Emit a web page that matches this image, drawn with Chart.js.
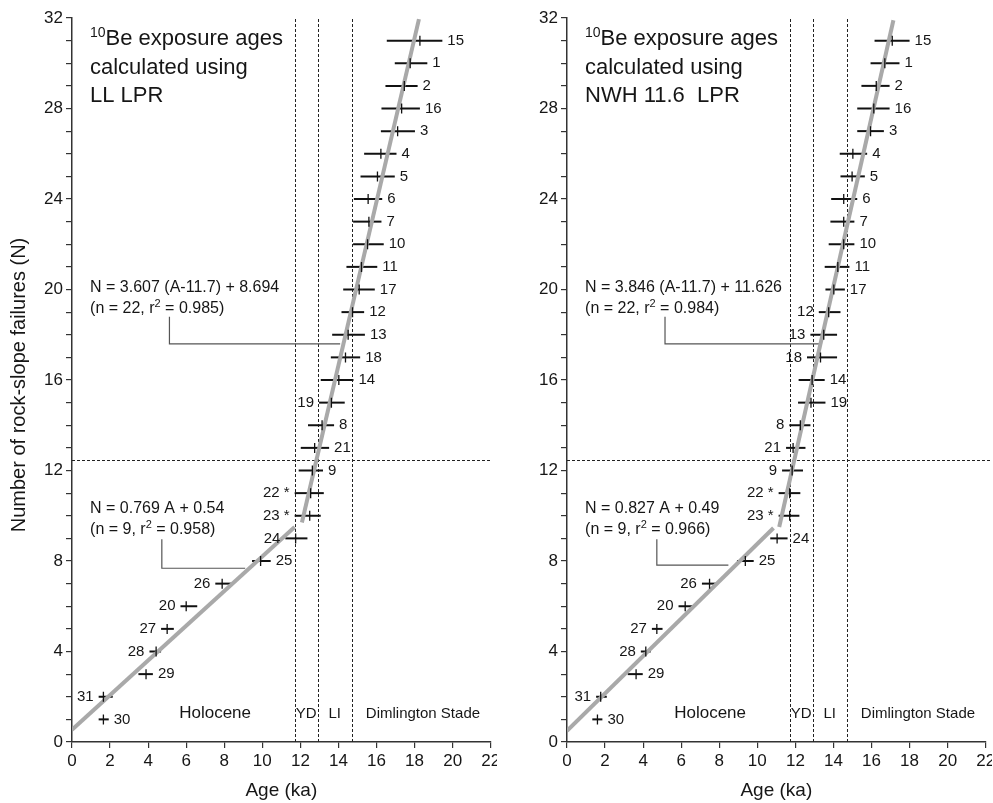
<!DOCTYPE html>
<html lang="en">
<head>
  <meta charset="UTF-8">
  <title>Rock-slope failures vs 10Be exposure age</title>
  <script src="https://cdn.jsdelivr.net/npm/chart.js@4"></script>
  <style>
    html, body { margin: 0; padding: 0; background: #fff; }
    #wrap { position: relative; width: 993px; height: 803px; overflow: hidden; }
    canvas { position: absolute; top: 0; }
    #left { left: 0; }
    #right { left: 495px; }
  </style>
</head>
<body>
  <div id="wrap">
    <canvas id="left" width="497" height="803"></canvas>
    <canvas id="right" width="497" height="803"></canvas>
  </div>

  <script>
// Rank of each rock-slope failure (y values)
const failureN = [1, 2, 3, 4, 5, 6, 7, 8, 9, 10, 11, 12, 13, 14, 15, 16,
                  17, 18, 19, 20, 21, 22, 23, 24, 25, 26, 27, 28, 29, 30, 31];

// Site number written next to each point
const siteLabels = ['30', '31', '29', '28', '27', '20', '26', '25', '24', '23 *', '22 *',
                    '9', '21', '8', '19', '14', '18', '13', '12', '17', '11', '10',
                    '7', '6', '5', '4', '3', '16', '2', '1', '15'];

// LL LPR ages (ka) with error bar ends
const llAge = [1.65, 1.65, 3.89, 4.42, 5.00, 6.00, 7.89, 9.91, 11.75, 12.49, 12.54,
               12.63, 12.75, 13.14, 13.63, 14.02, 14.37, 14.51, 14.74, 15.09, 15.21,
               15.53, 15.60, 15.56, 16.05, 16.23, 17.11, 17.32, 17.46, 17.77, 18.28];
const llLow = [1.40, 1.40, 3.49, 4.07, 4.68, 5.70, 7.53, 9.46, 11.21, 11.70, 11.70,
               11.91, 12.02, 12.40, 12.98, 13.07, 13.60, 13.67, 14.16, 14.25, 14.42,
               14.77, 14.77, 14.81, 15.16, 15.35, 16.23, 16.26, 16.47, 16.96, 16.54];
const llHigh = [1.93, 2.14, 4.25, 4.68, 5.35, 6.58, 8.40, 10.44, 12.37, 13.07, 13.23,
                13.19, 13.51, 13.77, 14.33, 14.79, 15.14, 15.39, 15.35, 15.91, 16.04,
                16.38, 16.26, 16.30, 16.96, 17.05, 18.02, 18.28, 18.16, 18.67, 19.46];

// NWH 11.6 LPR ages (ka) with error bar ends
const nwhAge = [1.60, 1.77, 3.63, 4.14, 4.72, 6.21, 7.49, 9.37, 11.04, 11.70, 11.70,
                11.83, 11.88, 12.26, 12.82, 12.88, 13.32, 13.49, 13.75, 14.02, 14.23,
                14.54, 14.54, 14.54, 14.98, 15.02, 15.95, 16.12, 16.25, 16.70, 17.09];
const nwhLow = [1.33, 1.53, 3.19, 3.88, 4.46, 5.86, 7.09, 8.93, 10.68, 11.12, 11.12,
                11.30, 11.51, 11.68, 12.14, 12.17, 12.61, 12.79, 13.23, 13.58, 13.54,
                13.75, 13.84, 13.88, 14.37, 14.33, 15.25, 15.25, 15.47, 15.95, 16.16];
const nwhHigh = [1.86, 2.09, 3.98, 4.40, 5.02, 6.62, 7.93, 9.81, 11.59, 12.21, 12.26,
                 12.40, 12.53, 12.79, 13.58, 13.54, 14.19, 14.19, 14.37, 14.60, 14.84,
                 15.10, 15.10, 15.25, 15.65, 15.77, 16.65, 16.95, 16.95, 17.47, 18.00];

// Regression line end points (age ka, N)
const llFitHolocene = [[0, 0.54], [11.7, 9.5]];
const llFitLate = [[12.08, 9.7], [18.23, 31.95]];
const nwhFitHolocene = [[0, 0.49], [10.85, 9.46]];
const nwhFitLate = [[11.15, 9.5], [17.15, 31.9]];

// Period boundaries (ka) and the N = 12.45 divider
const periodBounds = [11.7, 12.9, 14.7];
const splitN = 12.45;

// Regression equations
const llEqLate = ['N = 3.607 (A-11.7) + 8.694', '22', '0.985'];
const llEqHolocene = ['N = 0.769 A + 0.54', '9', '0.958'];
const nwhEqLate = ['N = 3.846 (A-11.7) + 11.626', '22', '0.984'];
const nwhEqHolocene = ['N = 0.827 A + 0.49', '9', '0.966'];

var FONT = '"Liberation Sans", Arial, Helvetica, sans-serif';
var INK = '#161616';

// which points carry their label on the left of the bar
var LEFT_SIDE = {
  left: [2, 4, 5, 6, 7, 9, 10, 11, 15],
  right: [2, 4, 5, 6, 7, 10, 11, 12, 13, 14, 17, 18, 19]
};

function toXY(pairs) {
  return pairs.map(function(p) { return {x: p[0], y: p[1]}; });
}

/* text with superscript pieces: parts = [[text, isSup], ...] */
function drawRich(ctx, parts, x, y, size, supSize) {
  var cx = x;
  parts.forEach(function(p) {
    ctx.font = (p[1] ? supSize : size) + 'px ' + FONT;
    ctx.fillText(p[0], cx, p[1] ? y - size * 0.38 : y);
    cx += ctx.measureText(p[0]).width;
  });
}

function makeExtras(panel) {
  return {
    id: 'extras_' + panel.id,

    beforeDatasetsDraw: function(chart) {
      var ctx = chart.ctx, xs = chart.scales.x, ys = chart.scales.y, area = chart.chartArea;
      ctx.save();

      // dashed period boundaries
      ctx.strokeStyle = '#222';
      ctx.lineWidth = 1;
      ctx.setLineDash([3, 2]);
      periodBounds.forEach(function(b) {
        var px = Math.round(xs.getPixelForValue(b)) + 0.5;
        ctx.beginPath();
        ctx.moveTo(px, ys.getPixelForValue(0));
        ctx.lineTo(px, area.top);
        ctx.stroke();
      });
      var py = Math.round(ys.getPixelForValue(splitN)) + 0.5;
      ctx.beginPath();
      ctx.moveTo(area.left, py);
      ctx.lineTo(area.right + panel.dividerExtra, py);
      ctx.stroke();
      ctx.setLineDash([]);

      // leader lines from equations
      ctx.strokeStyle = '#555';
      ctx.lineWidth = 1.2;
      panel.leaders.forEach(function(l) {
        ctx.beginPath();
        ctx.moveTo(xs.getPixelForValue(l[0]), ys.getPixelForValue(l[1]));
        ctx.lineTo(xs.getPixelForValue(l[0]), ys.getPixelForValue(l[2]));
        ctx.lineTo(xs.getPixelForValue(l[3]), ys.getPixelForValue(l[2]));
        ctx.stroke();
      });

      // horizontal error bars
      ctx.strokeStyle = '#111';
      ctx.lineWidth = 2;
      for (var i = 0; i < failureN.length; i++) {
        var y = ys.getPixelForValue(failureN[i]);
        ctx.beginPath();
        ctx.moveTo(xs.getPixelForValue(panel.low[i]), y);
        ctx.lineTo(xs.getPixelForValue(panel.high[i]), y);
        ctx.stroke();
      }
      ctx.restore();
    },

    afterDatasetsDraw: function(chart) {
      var ctx = chart.ctx, xs = chart.scales.x, ys = chart.scales.y, area = chart.chartArea;
      ctx.save();
      ctx.fillStyle = INK;

      // site labels
      ctx.font = '15px ' + FONT;
      ctx.textBaseline = 'middle';
      for (var i = 0; i < failureN.length; i++) {
        var y = ys.getPixelForValue(failureN[i]);
        if (panel.leftSide.indexOf(failureN[i]) >= 0) {
          ctx.textAlign = 'right';
          ctx.fillText(siteLabels[i], xs.getPixelForValue(panel.low[i]) - 5, y);
        } else {
          ctx.textAlign = 'left';
          ctx.fillText(siteLabels[i], xs.getPixelForValue(panel.high[i]) + 5, y);
        }
      }

      // panel title
      ctx.textBaseline = 'alphabetic';
      ctx.textAlign = 'left';
      var tx = area.left + 18;
      drawRich(ctx, [['10', true], ['Be exposure ages', false]], tx, area.top + 27, 22, 14);
      ctx.font = '22px ' + FONT;
      ctx.fillText('calculated using', tx, area.top + 56);
      ctx.fillText(panel.title, tx, area.top + 84);

      // regression equations
      [panel.eqLate, panel.eqHolocene].forEach(function(eq, k) {
        var ex = xs.getPixelForValue(0.95);
        var ey = ys.getPixelForValue(k === 0 ? 19.9 : 10.12);
        ctx.font = '16px ' + FONT;
        ctx.fillText(eq[0], ex, ey);
        drawRich(ctx, [['(n = ' + eq[1] + ', r', false], ['2', true], [' = ' + eq[2] + ')', false]],
                 ex, ey + 21, 16, 11);
      });

      // period names
      ctx.textAlign = 'center';
      var by = ys.getPixelForValue(1.06);
      ctx.font = '17px ' + FONT;
      ctx.fillText('Holocene', xs.getPixelForValue(7.52), by);
      ctx.font = '15px ' + FONT;
      ctx.fillText('YD', xs.getPixelForValue(12.31), by);
      ctx.fillText('LI', xs.getPixelForValue(13.8), by);
      ctx.fillText('Dimlington Stade', xs.getPixelForValue(18.44), by);

      // axis titles
      ctx.font = '19px ' + FONT;
      ctx.fillText('Age (ka)', (area.left + area.right) / 2, 796);
      if (panel.yTitle) {
        ctx.save();
        ctx.translate(25, 385);
        ctx.rotate(-Math.PI / 2);
        ctx.font = '20px ' + FONT;
        ctx.fillText('Number of rock-slope failures (N)', 0, 0);
        ctx.restore();
      }
      ctx.restore();
    }
  };
}

function makePanel(panel) {
  var points = failureN.map(function(n, i) { return {x: panel.age[i], y: n}; });

  var axisCommon = {
    type: 'linear',
    grid: { drawOnChartArea: false, drawTicks: true, tickLength: 6, color: '#333', lineWidth: 1.2 },
    border: { display: true, color: '#333', width: 1.5 },
  };

  return new Chart(document.getElementById(panel.id), {
    type: 'scatter',
    data: {
      datasets: [
        {
          data: points,
          pointStyle: 'line',
          rotation: 90,
          radius: 5,
          borderWidth: 1.3,
          borderColor: '#111',
          order: 0
        },
        {
          data: toXY(panel.fitHolocene),
          showLine: true,
          borderColor: '#a9a9a9',
          borderWidth: 4,
          pointRadius: 0,
          order: 1
        },
        {
          data: toXY(panel.fitLate),
          showLine: true,
          borderColor: '#a9a9a9',
          borderWidth: 4,
          pointRadius: 0,
          order: 1
        }
      ]
    },
    options: {
      responsive: false,
      animation: false,
      devicePixelRatio: 1,
      layout: { padding: { top: 18, right: 6, left: 0, bottom: 0 } },
      plugins: { legend: { display: false }, tooltip: { enabled: false } },
      scales: {
        x: Object.assign({}, axisCommon, {
          min: 0, max: 22,
          ticks: { stepSize: 2, padding: 3, color: INK, font: { family: FONT, size: 17 } },
          afterFit: function(s) { s.height = 61; s.paddingLeft = 0; s.paddingRight = 0; }
        }),
        y: Object.assign({}, axisCommon, {
          min: 0, max: 32,
          ticks: {
            stepSize: 1, autoSkip: false, padding: 3, color: INK,
            font: { family: FONT, size: 17 },
            callback: function(v) { return v % 4 === 0 ? v : ''; }
          },
          afterFit: function(s) { s.width = 72; s.paddingTop = 0; s.paddingBottom = 0; }
        })
      }
    },
    plugins: [makeExtras(panel)]
  });
}

makePanel({
  id: 'left',
  title: 'LL LPR',
  yTitle: true,
  age: llAge, low: llLow, high: llHigh,
  fitHolocene: llFitHolocene, fitLate: llFitLate,
  eqLate: llEqLate, eqHolocene: llEqHolocene,
  leftSide: LEFT_SIDE.left,
  dividerExtra: 0,
  // [x, yFrom, yTo, xTo]
  leaders: [[5.12, 18.8, 17.6, 14.09], [4.72, 8.96, 7.68, 9.1]]
});

makePanel({
  id: 'right',
  title: 'NWH 11.6  LPR',
  yTitle: false,
  age: nwhAge, low: nwhLow, high: nwhHigh,
  fitHolocene: nwhFitHolocene, fitLate: nwhFitLate,
  eqLate: nwhEqLate, eqHolocene: nwhEqHolocene,
  leftSide: LEFT_SIDE.right,
  dividerExtra: 8,
  leaders: [[5.15, 18.8, 17.6, 13.39], [4.72, 8.96, 7.82, 8.48]]
});
  </script>
</body>
</html>
